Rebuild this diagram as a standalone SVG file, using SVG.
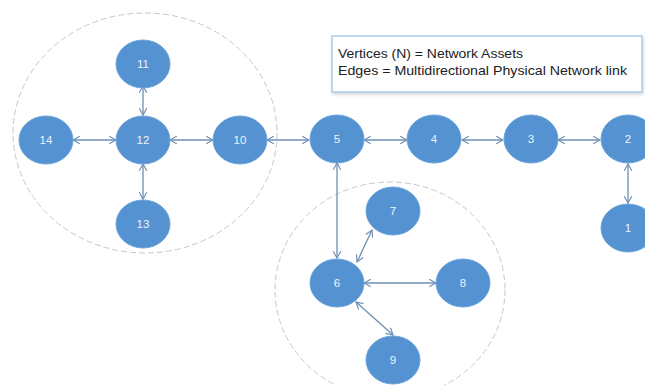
<svg xmlns="http://www.w3.org/2000/svg" width="645" height="385" viewBox="0 0 645 385">
<defs>
<marker id="arr" viewBox="0 0 10 10" refX="9" refY="5" markerWidth="9" markerHeight="9" markerUnits="userSpaceOnUse" orient="auto-start-reverse">
<path d="M1.5,0.8 L9,5 L1.5,9.2" fill="none" stroke="#6e8fb3" stroke-width="1.3"/>
</marker>
<filter id="sh" x="-10%" y="-10%" width="130%" height="140%">
<feGaussianBlur in="SourceAlpha" stdDeviation="1.5"/>
<feOffset dx="1" dy="2" result="b"/>
<feFlood flood-color="#000" flood-opacity="0.15"/>
<feComposite in2="b" operator="in"/>
<feMerge><feMergeNode/><feMergeNode in="SourceGraphic"/></feMerge>
</filter>
</defs>
<style>
.n ellipse{fill:#5592d2;stroke:#6aa3dc;stroke-width:1}
.n text{fill:#eef4fb;font-family:"Liberation Sans",Arial,sans-serif;font-size:11.5px;text-anchor:middle;dominant-baseline:central}
.c line{stroke:#6e8fb3;stroke-width:1.3;marker-start:url(#arr);marker-end:url(#arr)}
.g{fill:none;stroke:#c8c8c8;stroke-width:1;stroke-dasharray:6 3}
.lg{font-family:"Liberation Sans",Arial,sans-serif;font-size:13px;fill:#222}
</style>
<rect width="645" height="385" fill="#fff"/>
<ellipse class="g" cx="145" cy="133" rx="132" ry="120"/>
<ellipse class="g" cx="390" cy="290" rx="115" ry="108"/>
<g id="legend">
<rect x="332" y="36" width="310" height="56" fill="#fff" stroke="#a9cbe6" stroke-width="1.5" filter="url(#sh)"/>
<text class="lg" x="338" y="58" textLength="185" lengthAdjust="spacingAndGlyphs">Vertices (N) = Network Assets</text>
<text class="lg" x="338" y="75" textLength="289" lengthAdjust="spacingAndGlyphs">Edges = Multidirectional Physical Network link</text>
</g>
<g id="connectors" class="c">
<line x1="143" y1="86" x2="143" y2="115"/>
<line x1="143" y1="164" x2="143" y2="199"/>
<line x1="73" y1="140" x2="116" y2="140"/>
<line x1="170" y1="140" x2="213" y2="140"/>
<line x1="267" y1="140" x2="309" y2="140"/>
<line x1="364" y1="140" x2="407" y2="140"/>
<line x1="462" y1="140" x2="503" y2="140"/>
<line x1="558" y1="140" x2="600" y2="140"/>
<line x1="628" y1="164" x2="628" y2="203"/>
<line x1="337" y1="163" x2="337" y2="258"/>
<line x1="357" y1="262" x2="372" y2="230"/>
<line x1="364" y1="283" x2="436" y2="283"/>
<line x1="356" y1="302" x2="393" y2="335"/>
</g>
<g id="n11" class="n"><ellipse cx="143" cy="64" rx="27" ry="24"/><text x="143" y="64">11</text></g>
<g id="n12" class="n"><ellipse cx="143" cy="140" rx="27" ry="24"/><text x="143" y="140">12</text></g>
<g id="n13" class="n"><ellipse cx="143" cy="224" rx="27" ry="24"/><text x="143" y="224">13</text></g>
<g id="n14" class="n"><ellipse cx="46" cy="140" rx="27" ry="24"/><text x="46" y="140">14</text></g>
<g id="n10" class="n"><ellipse cx="240" cy="140" rx="27" ry="24"/><text x="240" y="140">10</text></g>
<g id="n5" class="n"><ellipse cx="337" cy="139" rx="27" ry="24"/><text x="337" y="139">5</text></g>
<g id="n4" class="n"><ellipse cx="434" cy="139" rx="27" ry="24"/><text x="434" y="139">4</text></g>
<g id="n3" class="n"><ellipse cx="531" cy="139" rx="27" ry="24"/><text x="531" y="139">3</text></g>
<g id="n2" class="n"><ellipse cx="628" cy="139" rx="27" ry="24"/><text x="628" y="139">2</text></g>
<g id="n1" class="n"><ellipse cx="628" cy="228" rx="27" ry="24"/><text x="628" y="228">1</text></g>
<g id="n7" class="n"><ellipse cx="393" cy="211" rx="27" ry="24"/><text x="393" y="211">7</text></g>
<g id="n6" class="n"><ellipse cx="337" cy="283" rx="27" ry="24"/><text x="337" y="283">6</text></g>
<g id="n8" class="n"><ellipse cx="463" cy="283" rx="27" ry="24"/><text x="463" y="283">8</text></g>
<g id="n9" class="n"><ellipse cx="393" cy="360" rx="27" ry="24"/><text x="393" y="360">9</text></g>
</svg>
